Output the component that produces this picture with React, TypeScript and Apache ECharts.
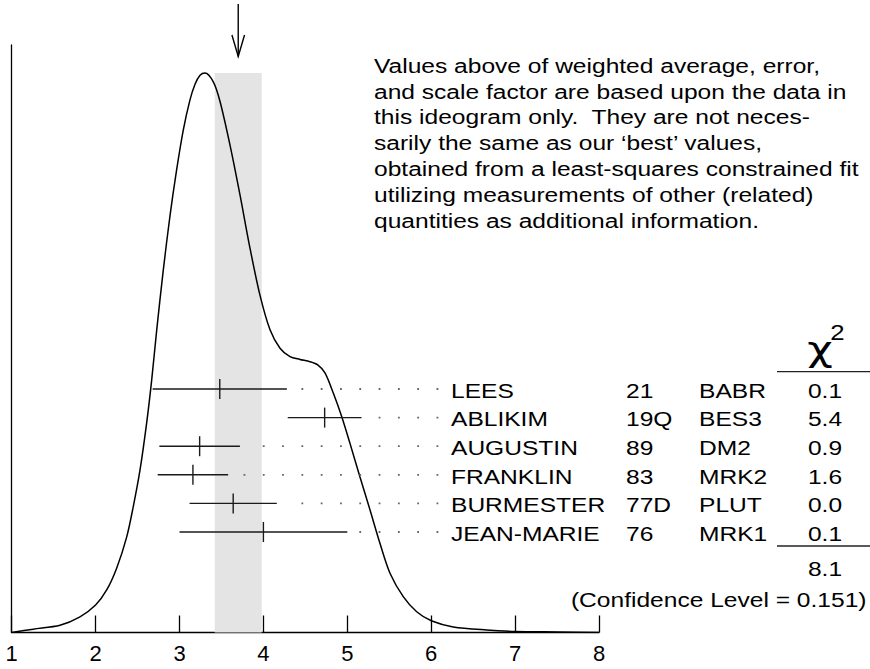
import React, { useEffect, useRef } from 'react';
import * as echarts from 'echarts';

// ---------- data ----------
const xTickLabels = ['1', '2', '3', '4', '5', '6', '7', '8'];

// ideogram curve (peak normalised to 1)
const curveX = [1.0, 1.257, 1.576, 1.814, 2.0, 2.132, 2.251, 2.371, 2.449, 2.529, 2.609, 2.669, 2.728, 2.807, 2.887, 2.967, 3.045, 3.125, 3.185, 3.245, 3.304, 3.403, 3.483, 3.602, 3.721, 3.84, 3.959, 4.079, 4.198, 4.317, 4.436, 4.555, 4.651, 4.734, 4.833, 4.933, 5.032, 5.151, 5.271, 5.39, 5.509, 5.667, 5.827, 6.001, 6.263, 6.662, 7.0, 7.5, 8.0];
const curveY = [0.0, 0.006, 0.013, 0.028, 0.049, 0.076, 0.115, 0.171, 0.225, 0.29, 0.375, 0.452, 0.54, 0.648, 0.745, 0.828, 0.898, 0.952, 0.98, 0.996, 1.0, 0.984, 0.949, 0.871, 0.782, 0.687, 0.603, 0.541, 0.508, 0.493, 0.488, 0.484, 0.478, 0.464, 0.428, 0.386, 0.338, 0.278, 0.219, 0.159, 0.106, 0.064, 0.037, 0.021, 0.01, 0.0045, 0.002, 0.001, 0.0];

const names = ['LEES', 'ABLIKIM', 'AUGUSTIN', 'FRANKLIN', 'BURMESTER', 'JEAN-MARIE'];
const years = ['21', '19Q', '89', '83', '77D', '76'];
const experiments = ['BABR', 'BES3', 'DM2', 'MRK2', 'PLUT', 'MRK1'];
const chi2Values = ['0.1', '5.4', '0.9', '1.6', '0.0', '0.1'];
const values = [3.48, 4.73, 3.24, 3.16, 3.64, 4.0];
const errors = [0.8, 0.44, 0.48, 0.42, 0.52, 1.0];

const weightedAverage = 3.7;
const averageError = 0.28;
const chi2Total = '8.1';
const confidenceLevel = '0.151';

const noteLines = [
  'Values above of weighted average, error,',
  'and scale factor are based upon the data in',
  'this ideogram only.  They are not neces-',
  'sarily the same as our \u2018best\u2019 values,',
  'obtained from a least-squares constrained fit',
  'utilizing measurements of other (related)',
  'quantities as additional information.',
];

// ---------- layout ----------
const W = 870;
const H = 669;
const GRID_LEFT = 11.7;
const GRID_RIGHT_PX = 599;
const GRID_TOP = 45;
const GRID_BOTTOM_PX = 632.5;
const ROW_FIRST_PX = 389;
const ROW_GAP = 28.6;
const LEADER_END = 6.085;
const LEADER_GAP = 0.12;
const FONT = "'Liberation Sans', Arial, Helvetica, sans-serif";
const FS = 21;
const SX = 1.17;

export default function App() {
  const ref = useRef<HTMLDivElement>(null);

  useEffect(() => {
    if (!ref.current) return;
    const chart = echarts.init(ref.current, null, { renderer: 'svg' });
    const n = names.length;
    const rowVal = (i: number) => n - i;
    const lastPx = ROW_FIRST_PX + (n - 1) * ROW_GAP;
    const rowMin = 1 - (GRID_BOTTOM_PX - lastPx) / ROW_GAP;
    const rowMax = 1 + (lastPx - GRID_TOP) / ROW_GAP;

    const leaderSeries = values.map((v, i) => ({
      type: 'line',
      xAxisIndex: 0,
      yAxisIndex: 1,
      symbol: 'none',
      silent: true,
      z: 3,
      lineStyle: { color: '#666', width: 1.8, type: [1.8, 17.5], cap: 'butt' },
      data: [
        [LEADER_END, rowVal(i)],
        [v + errors[i] + LEADER_GAP, rowVal(i)],
      ],
    }));

    chart.setOption({
      animation: false,
      grid: {
        left: GRID_LEFT,
        right: W - GRID_RIGHT_PX,
        top: GRID_TOP,
        bottom: H - GRID_BOTTOM_PX,
        containLabel: false,
      },
      xAxis: {
        type: 'value',
        min: 1,
        max: 8,
        interval: 1,
        axisLine: { show: true, onZero: false, lineStyle: { color: '#000', width: 1.3 } },
        axisTick: { show: true, inside: true, length: 17, lineStyle: { color: '#000', width: 1.3 } },
        splitLine: { show: false },
        axisLabel: {
          show: true,
          margin: 10,
          color: '#000',
          fontSize: 22,
          fontFamily: FONT,
          showMinLabel: true,
          showMaxLabel: true,
          formatter: (val: number) => xTickLabels[Math.round(val) - 1] ?? '',
        },
      },
      yAxis: [
        {
          type: 'value',
          min: 0,
          max: 1.05,
          axisLine: { show: true, lineStyle: { color: '#000', width: 1.3 } },
          axisTick: { show: false },
          axisLabel: { show: false },
          splitLine: { show: false },
        },
        {
          type: 'value',
          min: rowMin,
          max: rowMax,
          show: false,
          splitLine: { show: false },
        },
      ],
      series: [
        {
          type: 'line',
          xAxisIndex: 0,
          yAxisIndex: 0,
          symbol: 'none',
          smooth: 0.3,
          silent: true,
          z: 2,
          lineStyle: { color: '#000', width: 1.5 },
          data: curveX.map((x, i) => [x, curveY[i]]),
          markArea: {
            silent: true,
            itemStyle: { color: '#e4e4e4' },
            data: [
              [
                { xAxis: weightedAverage - averageError, yAxis: 0 },
                { xAxis: weightedAverage + averageError, yAxis: 1.0 },
              ],
            ],
          },
        },
        ...leaderSeries,
        {
          type: 'custom',
          xAxisIndex: 0,
          yAxisIndex: 1,
          silent: true,
          z: 4,
          data: values.map((v, i) => [v, errors[i], rowVal(i)]),
          renderItem: (params: any, api: any) => {
            const v = api.value(0);
            const e = api.value(1);
            const r = api.value(2);
            const c = api.coord([v, r]);
            const l = api.coord([v - e, r]);
            const rr = api.coord([v + e, r]);
            const st = { stroke: '#1a1a1a', lineWidth: 1.4 };
            return {
              type: 'group',
              children: [
                { type: 'line', shape: { x1: l[0], y1: l[1], x2: rr[0], y2: rr[1] }, style: st },
                { type: 'line', shape: { x1: c[0], y1: c[1] - 10, x2: c[0], y2: c[1] + 10 }, style: st },
              ],
            };
          },
        },
      ],
    });

    const txt = (text: string, x: number, y: number, align: string = 'left', size: number = FS, family: string = FONT, sx: number = SX) => ({
      type: 'text',
      x,
      y,
      scaleX: sx,
      silent: true,
      style: {
        text,
        font: `${size}px ${family}`,
        fill: '#000',
        textAlign: align,
        textVerticalAlign: 'middle',
        align,
        verticalAlign: 'middle',
      },
    });

    const graphics: any[] = [];
    // arrow
    const ax = chart.convertToPixel({ xAxisIndex: 0 }, weightedAverage) as number;
    graphics.push({
      type: 'line',
      silent: true,
      shape: { x1: ax, y1: 4, x2: ax, y2: 56.5 },
      style: { stroke: '#000', lineWidth: 1.4 },
    });
    graphics.push({
      type: 'polyline',
      silent: true,
      shape: { points: [[ax - 6.3, 35], [ax, 56.5], [ax + 6.3, 35]] },
      style: { stroke: '#000', lineWidth: 1.4, fill: 'none' },
    });

    // note
    noteLines.forEach((line, k) => {
      graphics.push(txt(line, 374, 65.5 + k * 25.8));
    });

    // table rows
    names.forEach((name, i) => {
      const y = (chart.convertToPixel({ yAxisIndex: 1 }, rowVal(i)) as number) + 1.5;
      graphics.push(txt(name, 451, y));
      graphics.push(txt(years[i], 626, y));
      graphics.push(txt(experiments[i], 699, y));
      graphics.push(txt(chi2Values[i], 825, y, 'center'));
    });

    // chi^2 header
    graphics.push(txt('\u03c7', 820, 348.5, 'center', 34, "'DejaVu Sans', sans-serif", 1.3));
    graphics.push(txt('2', 837.5, 331.7, 'center', 22));
    graphics.push({
      type: 'line',
      silent: true,
      shape: { x1: 777, y1: 371.7, x2: 870, y2: 371.7 },
      style: { stroke: '#222', lineWidth: 1.3 },
    });
    graphics.push({
      type: 'line',
      silent: true,
      shape: { x1: 777, y1: 546, x2: 870, y2: 546 },
      style: { stroke: '#222', lineWidth: 1.3 },
    });
    graphics.push(txt(chi2Total, 825, 568.3, 'center'));
    graphics.push(txt(`(Confidence Level = ${confidenceLevel})`, 866.5, 600, 'right'));

    chart.setOption({ graphic: { elements: graphics } });

    return () => {
      chart.dispose();
    };
  }, []);

  return (
    <div
      ref={ref}
      style={{ position: 'fixed', left: 0, top: 0, width: W, height: H, background: '#fff' }}
    />
  );
}
